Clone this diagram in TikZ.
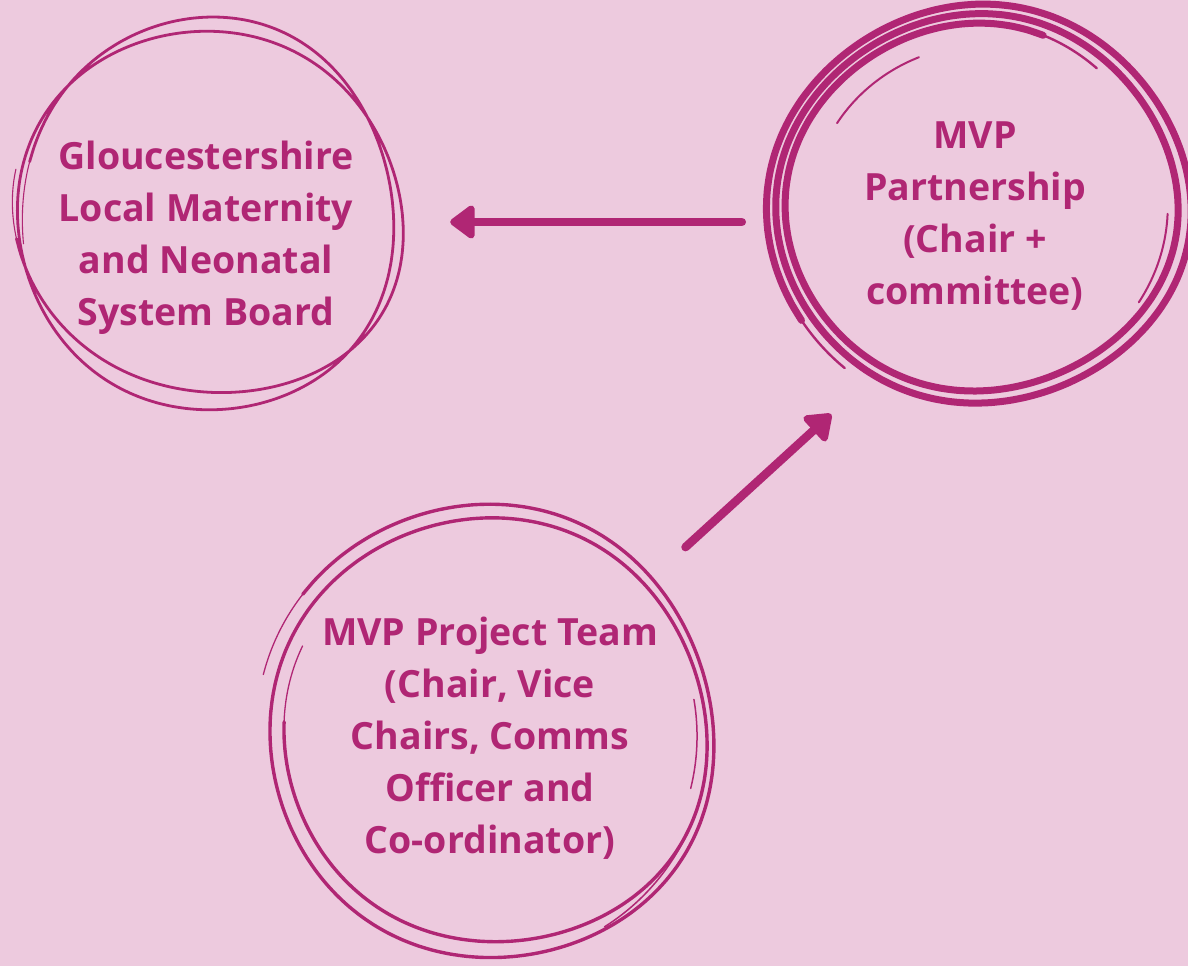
\documentclass[tikz,border=0pt]{standalone}
\usepackage{fontspec}
\setmainfont{Open Sans}
\usetikzlibrary{arrows.meta}
\definecolor{bgpink}{RGB}{237,202,222}
\definecolor{berry}{RGB}{176,38,116}

% parameters of a hand-drawn spiral: angle range, x-radius, y-radius
% (start and end values) and drift of the centre over the range
\newcommand\setspiral[8]{%
  \def\spA{#1}\def\spB{#2}\def\spRXa{#3}\def\spRXb{#4}%
  \def\spRYa{#5}\def\spRYb{#6}\def\spDX{#7}\def\spDY{#8}}
% draw the part of the current spiral between two angles
\newcommand\spiral[3]{%
  \draw[#1] plot[smooth, samples=160, domain=#2:#3, variable=\t]
    ({(\spRXa+(\spRXb-\spRXa)*((\t-\spA)/(\spB-\spA)))*cos(\t)
       +\spDX*((\t-\spA)/(\spB-\spA))+3*sin(3*\t)},
     {(\spRYa+(\spRYb-\spRYa)*((\t-\spA)/(\spB-\spA)))*sin(\t)
       +\spDY*((\t-\spA)/(\spB-\spA))+2*cos(2*\t)});}
% a plain elliptic arc used for loose pen tails
\newcommand\tail[6]{%
  \draw[#1] plot[smooth, samples=30, domain=#2:#3, variable=\t]
    ({#4*cos(\t)+#6}, {#5*sin(\t)});}

\begin{document}
\begin{tikzpicture}[x=1pt,y=-1pt,
  ring/.style={circle, draw=none, inner sep=0pt, minimum size=#1},
  caption/.style={align=center, text=berry, inner sep=0pt,
    font=\fontsize{37.5}{52}\selectfont\bfseries},
  scribble/.style={draw=berry, line cap=round, line join=round, line width=#1},
  link/.style={draw=berry, line width=8.5pt, line cap=round,
    -{Triangle[length=27pt,width=38pt,round]}}]
\fill[bgpink] (0,0) rectangle (1188,966);
\useasboundingbox (0,0) rectangle (1188,966);

% the three circles, as shapes for the connectors
\node[ring=390pt] (board)   at (206,222) {};
\node[ring=400pt] (partner) at (982,222) {};
\node[ring=456pt] (team)    at (487,737) {};

% hand-drawn outlines
\begin{scope}[shift={(board.center)}, yshift=2pt, rotate=-10]
  \setspiral{165}{905}{184}{200}{206}{172}{4}{-4}
  \spiral{scribble=2.8pt}{188}{882}
  \spiral{scribble=1.1pt}{165}{190}
  \spiral{scribble=1.1pt}{880}{905}
\end{scope}
\begin{scope}[shift={(partner.center)}, yshift=13pt, rotate=10]
  \setspiral{140}{1040}{216}{188}{206}{179}{-4}{-4}
  \spiral{scribble=7pt}{158}{1020}
  \spiral{scribble=2.4pt}{140}{160}
  \spiral{scribble=2.4pt}{1018}{1040}
  \tail{scribble=2pt}{222}{258}{172}{164}{0}
  \tail{scribble=2pt}{12}{42}{186}{178}{0}
\end{scope}
\begin{scope}[shift={(team.center)}, rotate=-6]
  \setspiral{190}{920}{231}{210}{234}{204}{7}{-3}
  \spiral{scribble=3.4pt}{212}{898}
  \spiral{scribble=1.3pt}{190}{214}
  \spiral{scribble=1.3pt}{896}{920}
  \tail{scribble=1.5pt}{18}{52}{222}{224}{0}
  \tail{scribble=1.5pt}{-16}{8}{210}{214}{0}
\end{scope}

% labels
\node[caption] (boardtxt) at (206,238)
  {Gloucestershire\\Local Maternity\\and Neonatal\\System Board};
\node[caption] (partnertxt) at (975,216)
  {MVP\\Partnership\\(Chair +\\committee)};
\node[caption] (teamtxt) at (490,738)
  {MVP Project Team\\(Chair, Vice\\Chairs, Comms\\Officer and\\Co-ordinator)};

% reporting lines
\draw[link, shorten <=40pt, shorten >=49pt] (partner) -- (board);
\draw[link, shorten <=46.5pt, shorten >=44.8pt] (team.44.2) -- (partner.234.7);
\end{tikzpicture}
\end{document}
